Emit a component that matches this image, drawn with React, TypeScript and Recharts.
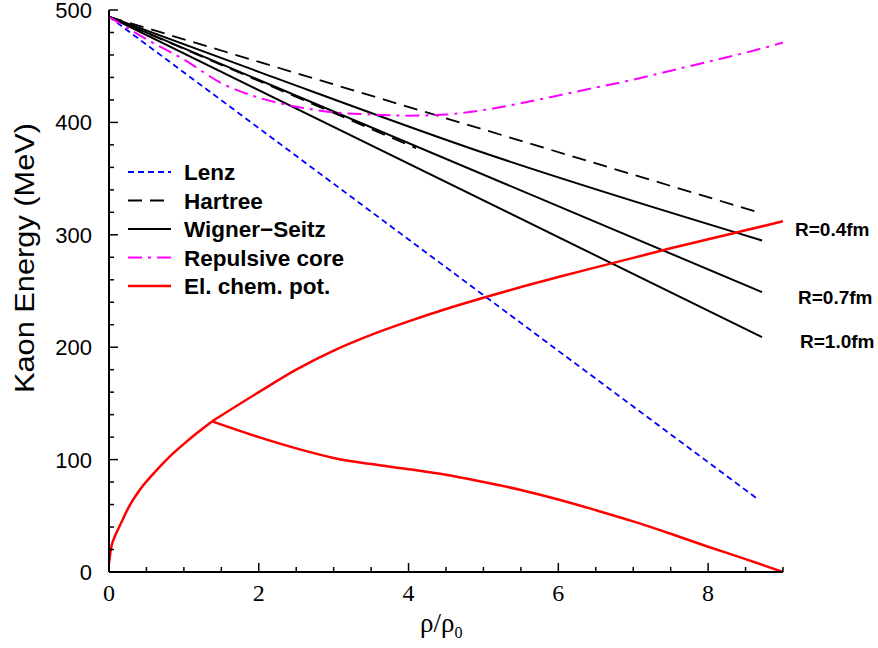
import { LineChart, Line, XAxis, YAxis, Legend } from 'recharts';

// density rho/rho0 and kaon energy (MeV)
const lenzX = [0, 8.66];
const lenzY = [494, 65];

const hartreeX = [0, 8.62];
const hartreeY = [494, 321];

const hartreeShortX = [0, 4.1];
const hartreeShortY = [494, 377];

const ws04X = [0, 2, 5, 8.72];
const ws04Y = [494, 445, 373, 295];
const ws07X = [0, 8.72];
const ws07Y = [494, 249];
const ws10X = [0, 8.72];
const ws10Y = [494, 209];

const coreX = [0, 0.5, 1, 1.5, 2, 2.5, 3, 3.5, 4, 4.5, 5, 5.5, 6, 6.5, 7, 7.5, 8, 8.5, 9];
const coreY = [494, 474, 456, 435, 422, 414, 409, 407, 406, 407, 411, 417, 424, 431, 438, 446, 454, 462, 471];

const chemRiseX = [0, 0.03, 0.08, 0.15, 0.25, 0.4, 0.6, 0.8, 1.0, 1.2, 1.375];
const chemRiseY = [8, 22, 32, 42, 56, 72, 88, 102, 114, 125, 134];

const chemUpperX = [1.375, 2, 2.5, 3, 3.5, 4, 4.5, 5, 5.5, 6, 6.5, 7, 7.5, 8, 8.5, 9];
const chemUpperY = [134, 160, 180, 197, 211, 223, 234, 244, 253.5, 262.5, 271, 279.5, 288, 296, 304, 312];

const chemLowerX = [1.375, 2, 2.5, 3, 3.5, 4, 4.5, 5, 5.5, 6, 6.5, 7, 7.5, 8, 8.5, 9];
const chemLowerY = [134, 120, 110, 101.5, 96, 91.5, 86.5, 80, 73, 64.5, 55, 45, 34, 22.5, 11.5, 0];

const xTicks = [0, 0.5, 1, 1.5, 2, 2.5, 3, 3.5, 4, 4.5, 5, 5.5, 6, 6.5, 7, 7.5, 8, 8.5, 9];
const xLabelled = [0, 2, 4, 6, 8];
const yTicks = [0, 20, 40, 60, 80, 100, 120, 140, 160, 180, 200, 220, 240, 260, 280, 300,
  320, 340, 360, 380, 400, 420, 440, 460, 480, 500];
const yLabelled = [0, 100, 200, 300, 400, 500];

const radiusLabels = ['R=0.4fm', 'R=0.7fm', 'R=1.0fm'];

const legendItems = [
  { name: 'Lenz', color: '#0000ff', dash: '6 4' },
  { name: 'Hartree', color: '#000000', dash: '14 8' },
  { name: 'Wigner\u2212Seitz', color: '#000000', dash: undefined },
  { name: 'Repulsive core', color: '#ff00ff', dash: '14 6 3 6' },
  { name: 'El. chem. pot.', color: '#ff0000', dash: undefined },
];

const zip = (xs: number[], ys: number[]) => xs.map((x, i) => ({ x, y: ys[i] }));

const SANS = 'Liberation Sans, Arial, sans-serif';
const SERIF = 'Liberation Serif, Times New Roman, serif';

const BottomTick = (props: any) => {
  const { x, y, payload } = props;
  const major = xLabelled.includes(payload.value);
  return (
    <g>
      <line x1={x} y1={y} x2={x} y2={y - (major ? 9 : 5)} stroke="#000" strokeWidth={1.5} />
      {major && (
        <text x={x} y={y + 29} textAnchor="middle" fontFamily={SERIF} fontSize={24} fill="#000">
          {payload.value}
        </text>
      )}
    </g>
  );
};

const TopTick = (props: any) => {
  const { x, y, payload } = props;
  const major = xLabelled.includes(payload.value);
  return <line x1={x} y1={y} x2={x} y2={y + (major ? 9 : 5)} stroke="#000" strokeWidth={1.5} />;
};

const LeftTick = (props: any) => {
  const { x, y, payload } = props;
  const major = yLabelled.includes(payload.value);
  return (
    <g>
      <line x1={x} y1={y} x2={x + (major ? 9 : 5)} y2={y} stroke="#000" strokeWidth={1.5} />
      {major && (
        <text x={x - 17} y={y + 8} textAnchor="end" fontFamily={SANS} fontSize={22} fill="#000">
          {payload.value}
        </text>
      )}
    </g>
  );
};

const RightTick = (props: any) => {
  const { x, y, payload } = props;
  const major = yLabelled.includes(payload.value);
  return <line x1={x} y1={y} x2={x - (major ? 9 : 5)} y2={y} stroke="#000" strokeWidth={1.5} />;
};

const KeyBox = () => (
  <svg width={260} height={150}>
    {legendItems.map((item, i) => {
      const cy = 12 + i * 28.5;
      return (
        <g key={item.name}>
          <line x1={0} y1={cy} x2={43} y2={cy} stroke={item.color} strokeWidth={item.name.startsWith('El') ? 2.5 : 1.8}
            strokeDasharray={item.dash} />
          <text x={56} y={cy + 8} fontFamily={SANS} fontWeight="bold" fontSize={22.5} fill="#000">
            {item.name}
          </text>
        </g>
      );
    })}
  </svg>
);

export default function App() {
  const axisLine = { stroke: '#000', strokeWidth: 2 };
  return (
    <div style={{ position: 'absolute', left: 0, top: 0, width: 878, height: 648, background: '#fff' }}>
      <LineChart width={878} height={648} margin={{ top: 10, right: 95, bottom: 46, left: 49 }}>
        <XAxis dataKey="x" type="number" domain={[0, 9]} ticks={xTicks} interval={0} allowDataOverflow
          tickSize={0} tickMargin={0} tickLine={false} tick={<BottomTick />} axisLine={axisLine} height={30} />
        <XAxis xAxisId="top" orientation="top" dataKey="x" type="number" domain={[0, 9]} ticks={xTicks}
          interval={0} tickSize={0} tickMargin={0} tickLine={false} tick={<TopTick />} axisLine={axisLine} height={0} />
        <YAxis type="number" domain={[0, 500]} ticks={yTicks} interval={0} allowDataOverflow width={60}
          tickSize={0} tickMargin={0} tickLine={false} tick={<LeftTick />} axisLine={axisLine}
          label={{
            content: () => (
              <text x={34} y={258} transform="rotate(-90 34 258)" textAnchor="middle" fontFamily={SANS}
                fontSize={28} textLength={270} lengthAdjust="spacingAndGlyphs" fill="#000">Kaon Energy (MeV)</text>
            ),
          }} />
        <YAxis yAxisId="right" orientation="right" type="number" domain={[0, 500]} ticks={yTicks} interval={0}
          width={0} tickSize={0} tickMargin={0} tickLine={false} tick={<RightTick />} axisLine={axisLine} />
        <Legend layout="vertical" align="center" verticalAlign="middle" content={<KeyBox />}
          wrapperStyle={{ position: 'absolute', left: 128, top: 160, width: 260, height: 150 }} />

        <Line data={zip(lenzX, lenzY)} dataKey="y" type="linear" stroke="#0000ff" strokeWidth={1.8}
          strokeDasharray="6 4" dot={false} isAnimationActive={false} />
        <Line data={zip(hartreeX, hartreeY)} dataKey="y" type="linear" stroke="#000" strokeWidth={1.8}
          strokeDasharray="14 8" dot={false} isAnimationActive={false} />
        <Line data={zip(hartreeShortX, hartreeShortY)} dataKey="y" type="linear" stroke="#000" strokeWidth={1.8}
          strokeDasharray="14 8" dot={false} isAnimationActive={false} />
        <Line data={zip(ws04X, ws04Y)} dataKey="y" type="monotone" stroke="#000" strokeWidth={2}
          dot={false} isAnimationActive={false} />
        <Line data={zip(ws07X, ws07Y)} dataKey="y" type="linear" stroke="#000" strokeWidth={2}
          dot={false} isAnimationActive={false} />
        <Line data={zip(ws10X, ws10Y)} dataKey="y" type="linear" stroke="#000" strokeWidth={2}
          dot={false} isAnimationActive={false} />
        <Line data={zip(coreX, coreY)} dataKey="y" type="monotone" stroke="#ff00ff" strokeWidth={2}
          strokeDasharray="14 6 3 6" dot={false} isAnimationActive={false} />
        <Line data={zip(chemRiseX, chemRiseY)} dataKey="y" type="monotone" stroke="#ff0000" strokeWidth={2.5}
          dot={false} isAnimationActive={false} />
        <Line data={zip(chemUpperX, chemUpperY)} dataKey="y" type="monotone" stroke="#ff0000" strokeWidth={2.5}
          dot={false} isAnimationActive={false} />
        <Line data={zip(chemLowerX, chemLowerY)} dataKey="y" type="monotone" stroke="#ff0000" strokeWidth={2.5}
          dot={false} isAnimationActive={false} />
      </LineChart>

      <div style={{ position: 'absolute', left: 0, top: 0, width: 878, height: 648, pointerEvents: 'none' }}>
        {radiusLabels.map((label, i) => (
          <div key={label} style={{
            position: 'absolute', left: [795, 798, 800][i], top: [218, 286, 330][i],
            fontFamily: SANS, fontWeight: 'bold', fontSize: 19, lineHeight: '24px', color: '#000',
          }}>{label}</div>
        ))}
        <div style={{
          position: 'absolute', left: 420, top: 608, fontFamily: SERIF, fontSize: 27, color: '#000',
          whiteSpace: 'nowrap',
        }}>
          ρ/ρ<sub style={{ fontSize: 16, verticalAlign: '-6px' }}>0</sub>
        </div>
      </div>
    </div>
  );
}
